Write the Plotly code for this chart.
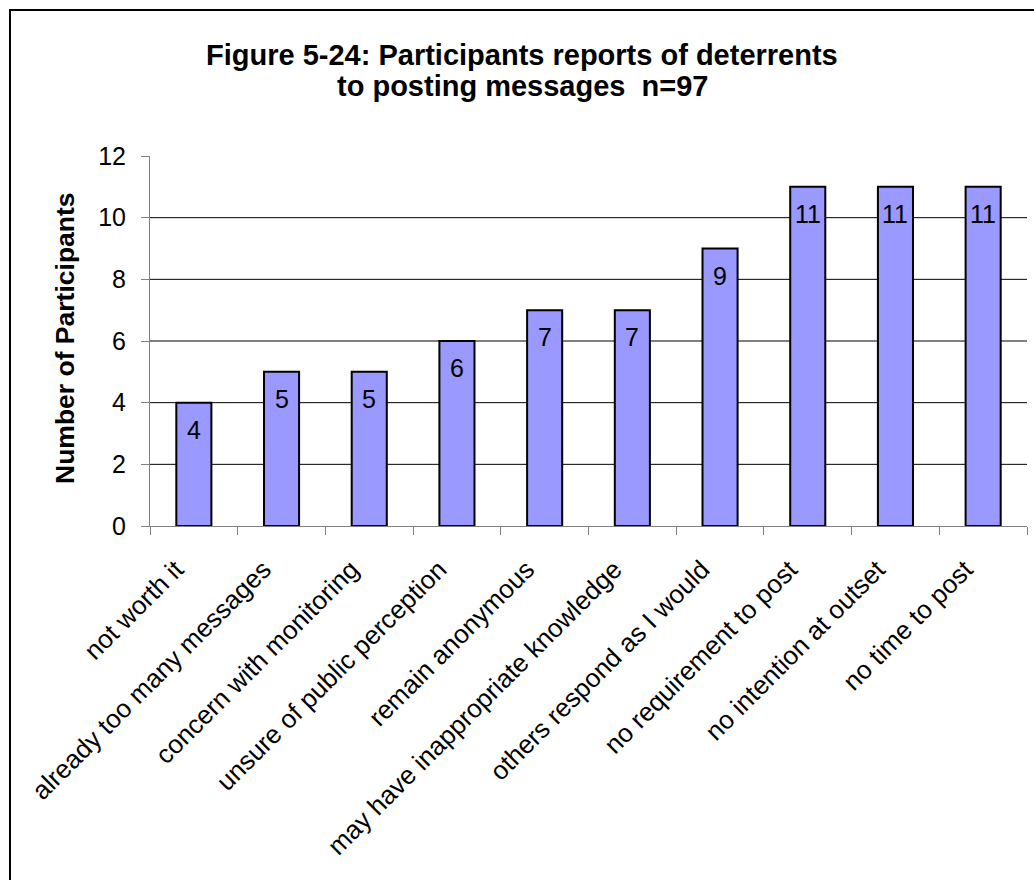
import plotly.graph_objects as go

# Deterrents to posting messages (n=97)
categories = [
    "not worth it",
    "already too many messages",
    "concern with monitoring",
    "unsure of public perception",
    "remain anonymous",
    "may have inappropriate knowledge",
    "others respond as I would",
    "no requirement to post",
    "no intention at outset",
    "no time to post",
]
counts = [4, 5, 5, 6, 7, 7, 9, 11, 11, 11]

y_ticks = [0, 2, 4, 6, 8, 10, 12]
grid_values = [2, 4, 6, 8, 10]

title_lines = [
    "Figure 5-24: Participants reports of deterrents",
    "to posting messages  n=97",
]

FONT = "Liberation Sans, Arial, sans-serif"

W, H = 1034, 880
L, R, T, B = 150, 7, 156, 354
plot_w = W - L - R
plot_h = H - T - B


def px_to_paper_x(px):
    return (px - L) / plot_w


def px_to_paper_y(py):
    return (H - B - py) / plot_h


fig = go.Figure()
fig.add_trace(
    go.Bar(
        x=categories,
        y=counts,
        width=0.4,
        marker=dict(color="#9999FF", line=dict(color="black", width=2)),
        hoverinfo="x+y",
    )
)

# value labels inside the top of each bar
annotations = []
for cat, v in zip(categories, counts):
    annotations.append(
        dict(
            x=cat, y=v, xref="x", yref="y",
            text=str(v), showarrow=False,
            yanchor="top", yshift=-11,
            font=dict(family=FONT, size=25, color="black"),
        )
    )

# two-line title
title_centers_y = [55, 86]
for line, cy in zip(title_lines, title_centers_y):
    annotations.append(
        dict(
            x=px_to_paper_x(522), y=px_to_paper_y(cy),
            xref="paper", yref="paper",
            text="<b>%s</b>" % line, showarrow=False,
            xanchor="center", yanchor="middle",
            font=dict(family=FONT, size=29, color="black"),
        )
    )

# y-axis title
annotations.append(
    dict(
        x=px_to_paper_x(65), y=px_to_paper_y(338),
        xref="paper", yref="paper",
        text="<b>Number of Participants</b>", showarrow=False,
        textangle=-90, xanchor="center", yanchor="middle",
        font=dict(family=FONT, size=26.5, color="black"),
    )
)

shapes = []
for g in grid_values:
    shapes.append(
        dict(type="line", xref="paper", yref="y", x0=0, x1=1, y0=g, y1=g,
             line=dict(color="black", width=1), layer="below")
    )

# chart frame
shapes.append(
    dict(type="rect", xref="paper", yref="paper",
         x0=px_to_paper_x(10), x1=px_to_paper_x(W + 20),
         y0=px_to_paper_y(H + 20), y1=px_to_paper_y(10),
         line=dict(color="black", width=2), fillcolor="rgba(0,0,0,0)")
)

fig.update_layout(
    width=W, height=H,
    margin=dict(l=L, r=R, t=T, b=B),
    paper_bgcolor="white", plot_bgcolor="white",
    showlegend=False,
    annotations=annotations,
    shapes=shapes,
    font=dict(family=FONT, color="black"),
    bargap=0.6,
)
fig.update_xaxes(
    showline=True, linecolor="#808080", linewidth=1,
    ticks="outside", tickson="boundaries", ticklen=8, tickcolor="#808080",
    tickangle=-45, tickfont=dict(family=FONT, size=26, color="black"),
    ticklabelstandoff=17, ticklabelshift=-18,
    showgrid=False,
)
fig.update_yaxes(
    range=[0, 12], tickvals=y_ticks,
    showline=True, linecolor="#808080", linewidth=1,
    ticks="outside", ticklen=8, tickcolor="#808080",
    tickfont=dict(family=FONT, size=25, color="black"),
    ticklabelstandoff=10,
    showgrid=False, zeroline=False,
)

fig.write_html("out.html")
